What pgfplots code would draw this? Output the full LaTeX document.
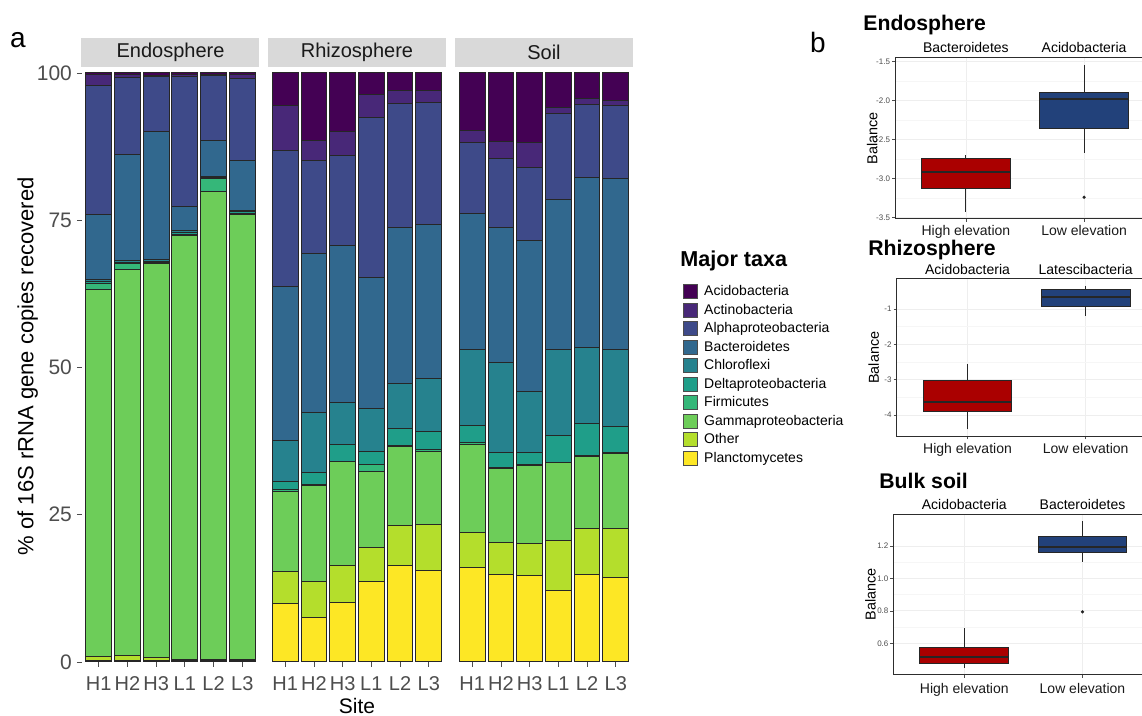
\documentclass[border=0pt]{standalone}
\usepackage{fontspec}
\setmainfont{Liberation Sans}
\usepackage{pgfplots}
\pgfplotsset{compat=1.18}
\usepackage{pgfplotstable}
\usepgfplotslibrary{statistics}

% viridis(10)
\definecolor{vAci}{HTML}{440154}
\definecolor{vAct}{HTML}{482878}
\definecolor{vAlp}{HTML}{3E4A89}
\definecolor{vBac}{HTML}{31688E}
\definecolor{vChl}{HTML}{26828E}
\definecolor{vDel}{HTML}{1F9E89}
\definecolor{vFir}{HTML}{35B779}
\definecolor{vGam}{HTML}{6DCD59}
\definecolor{vOth}{HTML}{B4DE2C}
\definecolor{vPla}{HTML}{FDE725}
\definecolor{stripgray}{HTML}{D9D9D9}
\definecolor{tickgray}{HTML}{4D4D4D}
\definecolor{hired}{HTML}{AA0000}
\definecolor{loblue}{HTML}{22417A}

% percent of 16S copies per site, bottom (Planctomycetes) to top (Acidobacteria)
\pgfplotstableread{
x P O G F D C B Al Ac Aci
1 0.3 0.7 62.3 1.0 0.3 0.4 10.9 21.9 1.9 0.3
2 0.2 0.9 65.6 0.9 0.2 0.3 18.1 13.1 0.4 0.3
3 0.2 0.6 66.8 0.2 0.2 0.3 21.7 9.4 0.2 0.4
4 0.2 0.3 71.9 0.2 0.3 0.4 4.0 22.1 0.3 0.3
5 0.2 0.3 79.3 2.2 0.2 0.3 6.1 11.0 0.2 0.2
6 0.3 0.2 75.4 0.3 0.2 0.2 8.5 13.9 0.7 0.3
}\endotab
\pgfplotstableread{
x P O G F D C B Al Ac Aci
1 9.9 5.4 13.6 0.4 1.3 7.0 26.1 23.1 7.7 5.5
2 7.5 6.1 16.4 0.1 2.1 10.1 27.0 15.9 3.3 11.5
3 10.1 6.2 17.7 0.1 2.8 7.1 26.7 15.3 4.1 9.9
4 13.6 5.9 12.8 1.3 2.2 7.2 22.2 27.3 3.8 3.7
5 16.3 6.8 13.4 0.3 2.8 7.6 26.5 21.1 2.3 2.9
6 15.5 7.8 12.5 0.2 3.2 9.0 26.1 20.7 2.0 3.0
}\rhizotab
\pgfplotstableread{
x P O G F D C B Al Ac Aci
1 16.1 5.9 15.0 0.3 2.8 13.0 23.0 12.1 2.0 9.8
2 14.8 5.5 12.6 0.1 2.5 15.4 22.9 11.7 2.9 11.6
3 14.6 5.6 13.2 0.1 2.0 10.5 25.6 12.3 4.3 11.8
4 12.2 8.5 13.1 0.1 4.6 14.6 25.5 14.5 1.0 5.9
5 14.9 7.8 12.2 0.1 5.5 12.9 28.9 12.3 1.0 4.4
6 14.4 8.2 12.8 0.1 4.5 13.1 28.9 12.4 1.0 4.6
}\soiltab

\newcommand{\taxa}[1]{%
  \addplot[taxon=vPla] table[x=x,y=P]{#1};
  \addplot[taxon=vOth] table[x=x,y=O]{#1};
  \addplot[taxon=vGam] table[x=x,y=G]{#1};
  \addplot[taxon=vFir] table[x=x,y=F]{#1};
  \addplot[taxon=vDel] table[x=x,y=D]{#1};
  \addplot[taxon=vChl] table[x=x,y=C]{#1};
  \addplot[taxon=vBac] table[x=x,y=B]{#1};
  \addplot[taxon=vAlp] table[x=x,y=Al]{#1};
  \addplot[taxon=vAct] table[x=x,y=Ac]{#1};
  \addplot[taxon=vAci] table[x=x,y=Aci]{#1};
}

\tikzset{
  toplab/.style={anchor=base, font=\fontsize{7}{8}\selectfont, yshift=2.4pt},
  strip/.style={anchor=south, yshift=1.8pt, fill=stripgray, minimum width=89pt,
    minimum height=14.5pt, inner sep=0pt, font=\fontsize{10}{12}\selectfont, text=black!90},
  ptitle/.style={anchor=west, inner sep=0pt, font=\bfseries\fontsize{10.6}{12}\selectfont},
}

\pgfplotsset{
  taxon/.style={fill=#1, draw=black!85, line width=0.5pt,
    legend image code/.code={\draw[fill=#1,draw=black!70,line width=0.4pt] (0pt,-3.5pt) rectangle (7pt,3.5pt);}},
  facet/.style={
    scale only axis, width=89pt, height=295.7pt, anchor=south west,
    ybar stacked, bar width=0.9,
    xmin=0.4, xmax=6.6, ymin=0, ymax=100.4,
    axis line style={draw=none},
    tick align=outside, major tick length=2.3pt,
    tick style={tickgray, line width=0.4pt},
    xtick={1,...,6}, xticklabels={H1,H2,H3,L1,L2,L3},
    xtick pos=left, ytick pos=left, ytick=\empty,
    tick label style={font=\fontsize{10.5}{12}\selectfont, text=tickgray},
    xticklabel style={font=\fontsize{10}{12}\selectfont, anchor=base, inner sep=0pt, yshift=-12pt},
    clip=false,
  },
  balance/.style={
    scale only axis, width=130pt, anchor=south west,
    boxplot/draw direction=y,
    xmin=0.4, xmax=2.6, xtick={1,2}, xticklabels={High elevation,Low elevation},
    xtick pos=left, ytick pos=left, tick align=outside,
    major tick length=1.5pt, minor tick length=0pt,
    tick style={gray!60!black, line width=0.3pt},
    axis line style={draw=gray!35!black, line width=0.5pt},
    xmajorgrids, ymajorgrids, yminorgrids, minor y tick num=1,
    major grid style={gray!13, line width=0.4pt},
    minor grid style={gray!7, line width=0.3pt},
    yticklabel style={font=\fontsize{4}{5}\selectfont, text=gray!60!black, inner sep=0.8pt},
    xticklabel style={font=\fontsize{7}{8}\selectfont, text=black!90, anchor=base, inner sep=0pt, yshift=-7pt},
    ylabel=Balance,
    ylabel style={font=\fontsize{7.2}{8}\selectfont, at={(axis description cs:-0.088,0.5)}, anchor=center},
    clip=false,
    boxplot/every median/.style={line width=1.1pt},
  },
  hi/.style={fill=hired, draw=black!85, line width=0.5pt, mark=*, mark size=0.55pt, mark options={fill=black}},
  lo/.style={fill=loblue, draw=black!85, line width=0.5pt, mark=*, mark size=0.55pt, mark options={fill=black}},
}

\begin{document}
\begin{tikzpicture}
\useasboundingbox (0,0) rectangle (571pt,-358pt);
\clip (0,0) rectangle (571pt,-358pt);

\node[font=\fontsize{14}{16}\selectfont] at (9pt,-20pt) {a};
\node[font=\fontsize{14}{16}\selectfont] at (409pt,-21pt) {b};

% ---- panel a ----
\begin{axis}[facet, at={(40.75pt,-331pt)},
  ytick={0,25,50,75,100}, yticklabels={0,25,50,75,100},
  yticklabel style={anchor=east, inner sep=0pt, xshift=-2.3pt},
  ylabel={\% of 16S rRNA gene copies recovered},
  ylabel style={font=\fontsize{11}{13}\selectfont, at={(axis description cs:-0.303,0.5)}, anchor=center}]
\taxa{\endotab}
\node[strip] at (axis description cs:0.5,1) {Endosphere};
\end{axis}

\begin{axis}[facet, at={(134pt,-331pt)},
  xlabel={Site},
  xlabel style={font=\fontsize{10.5}{12}\selectfont, inner sep=0pt, at={(axis description cs:0.5,-0.0879)}, anchor=base}]
\taxa{\rhizotab}
\node[strip] at (axis description cs:0.5,1) {Rhizosphere};
\end{axis}

\begin{axis}[facet, at={(227.5pt,-331pt)},
  reverse legend,
  legend style={at={(axis description cs:1.281,0.639)}, anchor=north west,
    draw=none, fill=none, font=\fontsize{7}{8}\selectfont,
    cells={anchor=west}, row sep=1.85pt, column sep=3pt, inner sep=0pt,
    nodes={inner sep=0pt, text height=5.2pt, text depth=1.5pt}}]
\taxa{\soiltab}
\legend{Planctomycetes,Other,Gammaproteobacteria,Firmicutes,Deltaproteobacteria,Chloroflexi,Bacteroidetes,Alphaproteobacteria,Actinobacteria,Acidobacteria}
\node[strip] at (axis description cs:0.5,1) {Soil};
\node[anchor=west, inner sep=0pt, font=\bfseries\fontsize{10.8}{12}\selectfont] at (axis description cs:1.264,0.678) {Major taxa};
\end{axis}

% ---- panel b ----
\node[ptitle] at (431.5pt,-12.5pt) {Endosphere};
\node[ptitle] at (434pt,-125pt) {Rhizosphere};
\node[ptitle] at (439.5pt,-240.3pt) {Bulk soil};

\begin{axis}[balance, at={(447.5pt,-109.5pt)}, height=80.7pt,
  ymin=-3.522, ymax=-1.448,
  ytick={-3.5,-3,-2.5,-2,-1.5}, yticklabels={-3.5,-3.0,-2.5,-2.0,-1.5}]
\addplot[hi, boxplot prepared={draw position=1, box extend=0.75, whisker extend=0,
  lower whisker=-3.428, lower quartile=-3.136, median=-2.914,
  upper quartile=-2.742, upper whisker=-2.70}] coordinates {};
\addplot[lo, boxplot prepared={draw position=2, box extend=0.75, whisker extend=0,
  lower whisker=-2.67, lower quartile=-2.361, median=-1.975,
  upper quartile=-1.893, upper whisker=-1.542}] table[row sep=\\, y index=0] {v\\ -3.243\\};
\node[toplab] at (axis cs:1,-1.448) {Bacteroidetes};
\node[toplab] at (axis cs:2,-1.448) {Acidobacteria};
\end{axis}

\begin{axis}[balance, at={(448.3pt,-218.25pt)}, height=78.85pt,
  ymin=-4.608, ymax=-0.146,
  ytick={-4,-3,-2,-1}, yticklabels={-4,-3,-2,-1}]
\addplot[hi, boxplot prepared={draw position=1, box extend=0.75, whisker extend=0,
  lower whisker=-4.405, lower quartile=-3.906, median=-3.642,
  upper quartile=-3.01, upper whisker=-2.557}] coordinates {};
\addplot[lo, boxplot prepared={draw position=2, box extend=0.75, whisker extend=0,
  lower whisker=-1.198, lower quartile=-0.935, median=-0.652,
  upper quartile=-0.442, upper whisker=-0.349}] coordinates {};
\node[toplab] at (axis cs:1,-0.146) {Acidobacteria};
\node[toplab] at (axis cs:2,-0.146) {Latescibacteria};
\end{axis}

\begin{axis}[balance, at={(446.7pt,-337.5pt)}, height=80.5pt,
  ymin=0.405, ymax=1.397,
  ytick={0.6,0.8,1.0,1.2}, yticklabels={0.6,0.8,1.0,1.2},
  xticklabel style={yshift=-1pt}]
\addplot[hi, boxplot prepared={draw position=1, box extend=0.75, whisker extend=0,
  lower whisker=0.45, lower quartile=0.473, median=0.514,
  upper quartile=0.575, upper whisker=0.692}] coordinates {};
\addplot[lo, boxplot prepared={draw position=2, box extend=0.75, whisker extend=0,
  lower whisker=1.102, lower quartile=1.159, median=1.195,
  upper quartile=1.26, upper whisker=1.352}] table[row sep=\\, y index=0] {v\\ 0.794\\};
\node[toplab] at (axis cs:1,1.397) {Acidobacteria};
\node[toplab] at (axis cs:2,1.397) {Bacteroidetes};
\end{axis}
\end{tikzpicture}
\end{document}
